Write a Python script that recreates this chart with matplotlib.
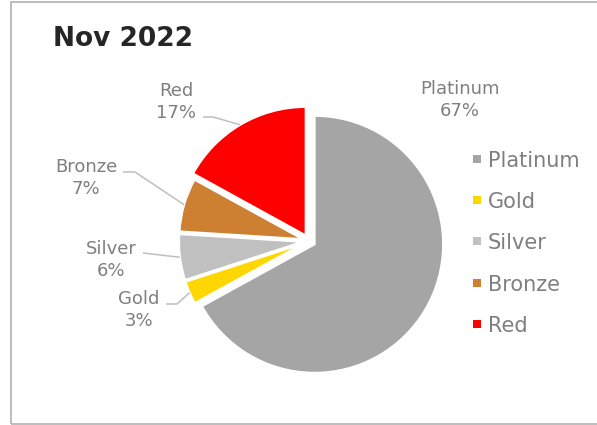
import matplotlib
matplotlib.use("Agg")
import matplotlib.pyplot as plt
from matplotlib.patches import Rectangle
import numpy as np

# ---- data ----
categories = ["Platinum", "Gold", "Silver", "Bronze", "Red"]
values = [67, 3, 6, 7, 17]
colors = ["#A5A5A5", "#FFD700", "#C0C0C0", "#CD7F32", "#FF0000"]
title = "Nov 2022"

# ---- layout (pixel coordinates, y measured from top) ----
W, H = 597, 425
radius_scale = [1.0, 0.961, 0.961, 0.961, 1.0]
label_tops = {"Platinum": (460, 80), "Gold": (139, 290), "Silver": (111, 240),
              "Bronze": (86, 158), "Red": (176, 82)}
leader_starts = {"Red": [(203, 117), (213, 117)], "Bronze": [(123, 172), (135, 172)],
                 "Silver": [(143, 253)], "Gold": [(166, 304), (177, 304)]}
TEXT_GRAY = "#7F7F7F"

fig = plt.figure(figsize=(W / 100, H / 100), dpi=100)
ax = fig.add_axes([0, 0, 1, 1])


def Y(y):
    return H - y


cx, cy, R, EXP = 309, Y(241), 128.5, 6.5
wedges, _ = ax.pie(values, colors=colors, startangle=90, counterclock=False,
                   radius=R, center=(cx, cy), explode=[EXP] * len(values),
                   wedgeprops=dict(edgecolor="white", linewidth=1.5), frame=True)
for w, s in zip(wedges, radius_scale):
    w.set_radius(R * s)
ax.set_xlim(0, W)
ax.set_ylim(0, H)
ax.set_aspect("equal")
ax.axis("off")

total = sum(values)
for cat, val, w in zip(categories, values, wedges):
    pct = f"{round(val / total * 100)}%"
    lx, ly = label_tops[cat]
    ax.text(lx, Y(ly), f"{cat}\n{pct}", ha="center", va="top", fontsize=13,
            color=TEXT_GRAY, linespacing=1.3, multialignment="center")
    if cat in leader_starts:
        mid = np.deg2rad((w.theta1 + w.theta2) / 2)
        ex = w.center[0] + w.r * np.cos(mid)
        ey = w.center[1] + w.r * np.sin(mid)
        pts = [(x, Y(y)) for x, y in leader_starts[cat]] + [(ex, ey)]
        xs, ys = zip(*pts)
        ax.plot(xs, ys, color="#BFBFBF", lw=1.1, solid_capstyle="butt", zorder=3)

# legend
for i, (cat, col) in enumerate(zip(categories, colors)):
    base = 166.7 + i * 41.3
    ax.plot([476.5], [Y(base - 8)], marker="s", markersize=5.5, color=col,
            markeredgewidth=0, linestyle="none")
    ax.text(488, Y(base), cat, ha="left", va="baseline", fontsize=15, color=TEXT_GRAY)

# title
ax.text(53, Y(46), title, ha="left", va="baseline", fontsize=19,
        fontweight="bold", color="#262626")

# chart border
ax.add_patch(Rectangle((10.5, Y(423.5)), 700, 421.5, fill=False,
                       edgecolor="#ABABAB", lw=1.1, clip_on=False))

fig.savefig("out.png", dpi=100)
